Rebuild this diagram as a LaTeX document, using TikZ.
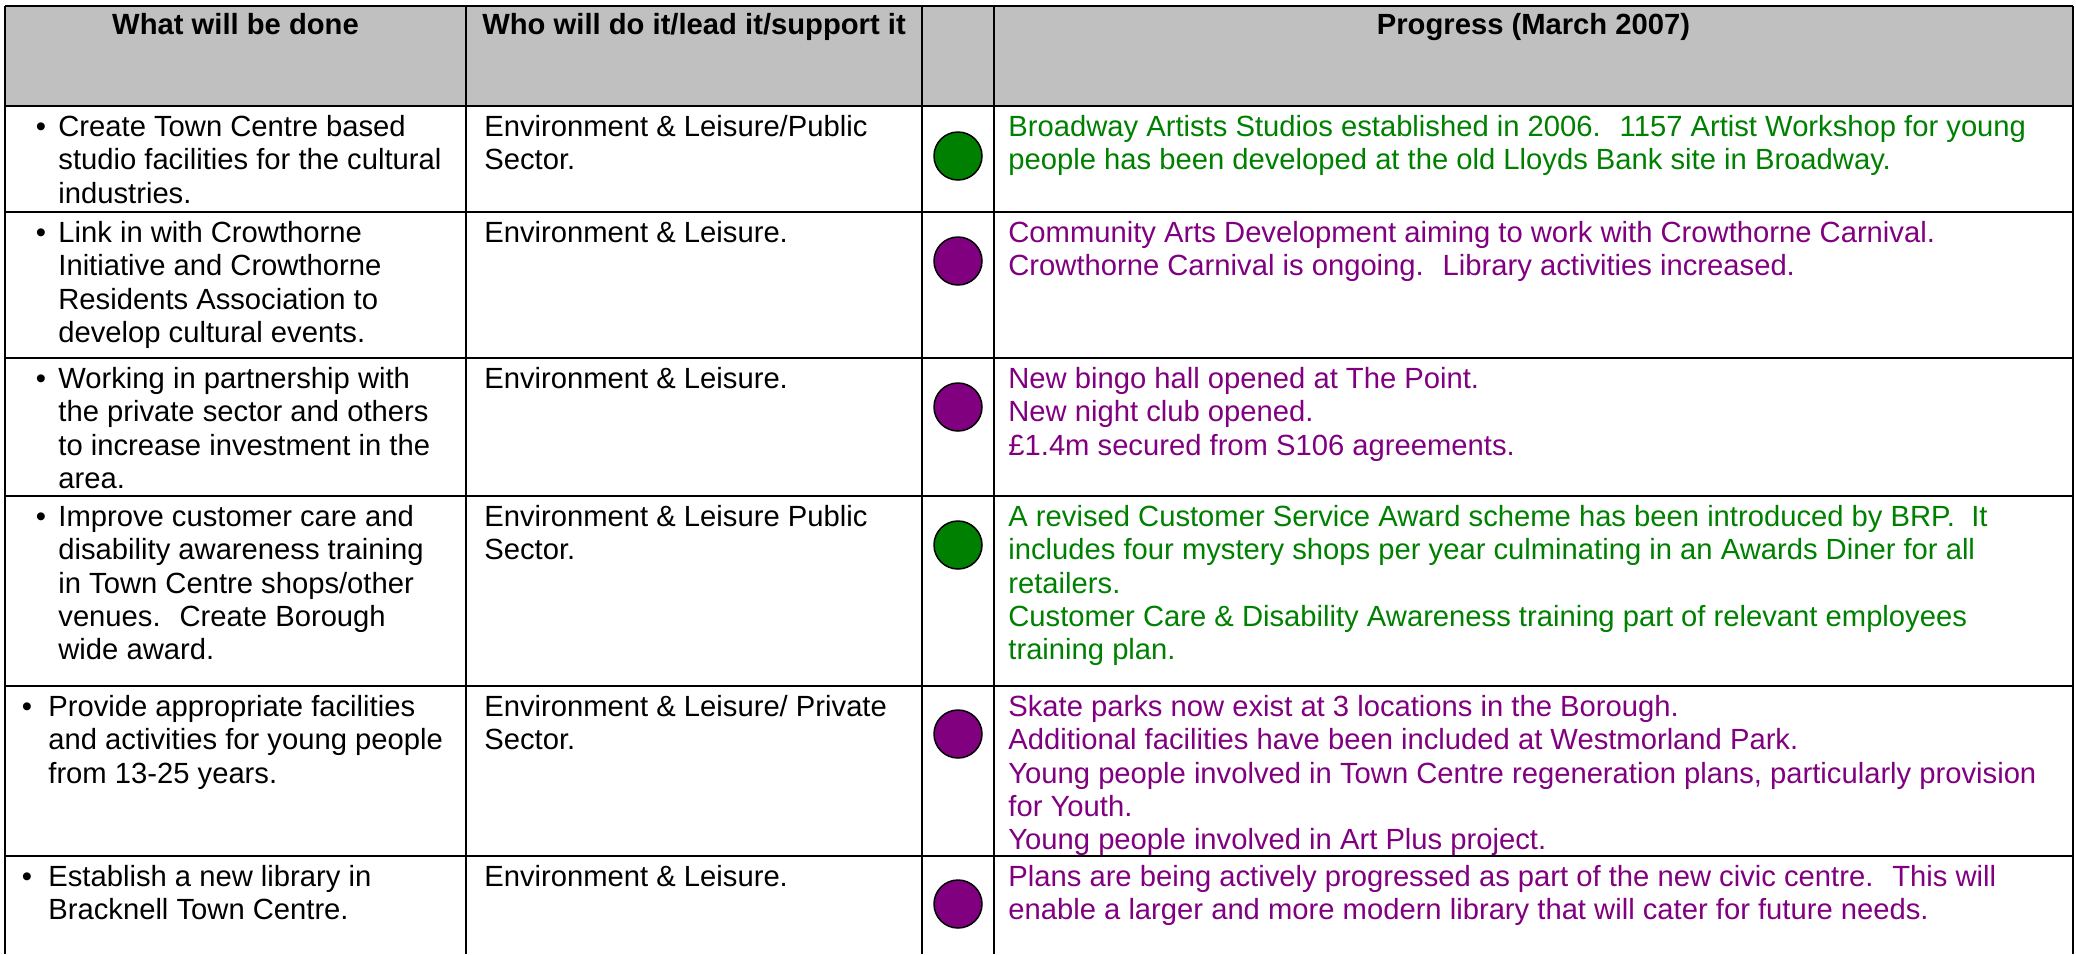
\documentclass[tikz,border=0pt]{standalone}
\usepackage{fontspec}
\setmainfont{Liberation Sans}
\definecolor{ragreen}{HTML}{008000}
\definecolor{rapurple}{HTML}{800080}
\definecolor{headgrey}{HTML}{C0C0C0}

\begin{document}
\begin{tikzpicture}[x=0.5pt,y=-0.5pt,line join=bevel,
  cell/.style={anchor=north west,inner sep=0pt,align=left,font=\fontsize{14.6}{16.65}\selectfont},
  head/.style={cell,anchor=north,font=\fontsize{14.6}{16.65}\selectfont\bfseries},
  lamp/.style={circle,draw=black,line width=0.75pt,minimum size=24pt,inner sep=0pt},
  rule/.style={black,line width=1pt}]
%%
\useasboundingbox (0,0) rectangle (2076,954);
\fill [headgrey] (5,6) rectangle (2073,106);
%
\draw [rule] (5,6) -- (2073,6);
\draw [rule] (5,106) -- (2073,106);
\draw [rule] (5,212) -- (2073,212);
\draw [rule] (5,358) -- (2073,358);
\draw [rule] (5,496) -- (2073,496);
\draw [rule] (5,686) -- (2073,686);
\draw [rule] (5,856) -- (2073,856);
\draw [rule] (5,6) -- (5,954);
\draw [rule] (466,6) -- (466,954);
\draw [rule] (922,6) -- (922,954);
\draw [rule] (994,6) -- (994,954);
\draw [rule] (2073,6) -- (2073,954);
%
\node (head_what) at (235.5,10.7) [head] {\strut What will be done};
  \node (head_who) at (694,10.7) [head] {\strut Who will do it/lead it/support it};
  \node (head_progress) at (1533.5,10.7) [head] {\strut Progress (March 2007)};
%
\node (bullet_1) at (41,112.7) [cell,anchor=north] {\strut •};
  \node (what_1) at (58,112.7) [cell] {\strut Create Town Centre based\\studio facilities for the cultural\\industries.};
  \node (who_1) at (484,112.7) [cell] {\strut Environment \& Leisure/Public\\Sector.};
  \node (lamp_1) at (958,156) [lamp,fill=ragreen] {};
  \node (progress_1) at (1008,112.7) [cell,text=ragreen] {\strut Broadway Artists Studios established in 2006.~ 1157 Artist Workshop for young\\people has been developed at the old Lloyds Bank site in Broadway.};
%
\node (bullet_2) at (41,218.7) [cell,anchor=north] {\strut •};
  \node (what_2) at (58,218.7) [cell] {\strut Link in with Crowthorne\\Initiative and Crowthorne\\Residents Association to\\develop cultural events.};
  \node (who_2) at (484,218.7) [cell] {\strut Environment \& Leisure.};
  \node (lamp_2) at (958,261) [lamp,fill=rapurple] {};
  \node (progress_2) at (1008,218.7) [cell,text=rapurple] {\strut Community Arts Development aiming to work with Crowthorne Carnival.\\Crowthorne Carnival is ongoing.~ Library activities increased.};
%
\node (bullet_3) at (41,364.7) [cell,anchor=north] {\strut •};
  \node (what_3) at (58,364.7) [cell] {\strut Working in partnership with\\the private sector and others\\to increase investment in the\\area.};
  \node (who_3) at (484,364.7) [cell] {\strut Environment \& Leisure.};
  \node (lamp_3) at (958,407) [lamp,fill=rapurple] {};
  \node (progress_3) at (1008,364.7) [cell,text=rapurple] {\strut New bingo hall opened at The Point.\\New night club opened.\\£1.4m secured from S106 agreements.};
%
\node (bullet_4) at (41,502.7) [cell,anchor=north] {\strut •};
  \node (what_4) at (58,502.7) [cell] {\strut Improve customer care and\\disability awareness training\\in Town Centre shops/other\\venues.~ Create Borough\\wide award.};
  \node (who_4) at (484,502.7) [cell] {\strut Environment \& Leisure Public\\Sector.};
  \node (lamp_4) at (958,545) [lamp,fill=ragreen] {};
  \node (progress_4) at (1008,502.7) [cell,text=ragreen] {\strut A revised Customer Service Award scheme has been introduced by BRP.~ It\\includes four mystery shops per year culminating in an Awards Diner for all\\retailers.\\Customer Care \& Disability Awareness training part of relevant employees\\training plan.};
%
\node (bullet_5) at (27,692.7) [cell,anchor=north] {\strut •};
  \node (what_5) at (48,692.7) [cell] {\strut Provide appropriate facilities\\and activities for young people\\from 13-25 years.};
  \node (who_5) at (484,692.7) [cell] {\strut Environment \& Leisure/ Private\\Sector.};
  \node (lamp_5) at (958,734) [lamp,fill=rapurple] {};
  \node (progress_5) at (1008,692.7) [cell,text=rapurple] {\strut Skate parks now exist at 3 locations in the Borough.\\Additional facilities have been included at Westmorland Park.\\Young people involved in Town Centre regeneration plans, particularly provision\\for Youth.\\Young people involved in Art Plus project.};
%
\node (bullet_6) at (27,862.7) [cell,anchor=north] {\strut •};
  \node (what_6) at (48,862.7) [cell] {\strut Establish a new library in\\Bracknell Town Centre.};
  \node (who_6) at (484,862.7) [cell] {\strut Environment \& Leisure.};
  \node (lamp_6) at (958,904) [lamp,fill=rapurple] {};
  \node (progress_6) at (1008,862.7) [cell,text=rapurple] {\strut Plans are being actively progressed as part of the new civic centre.~ This will\\enable a larger and more modern library that will cater for future needs.};
%
\end{tikzpicture}
\end{document}
